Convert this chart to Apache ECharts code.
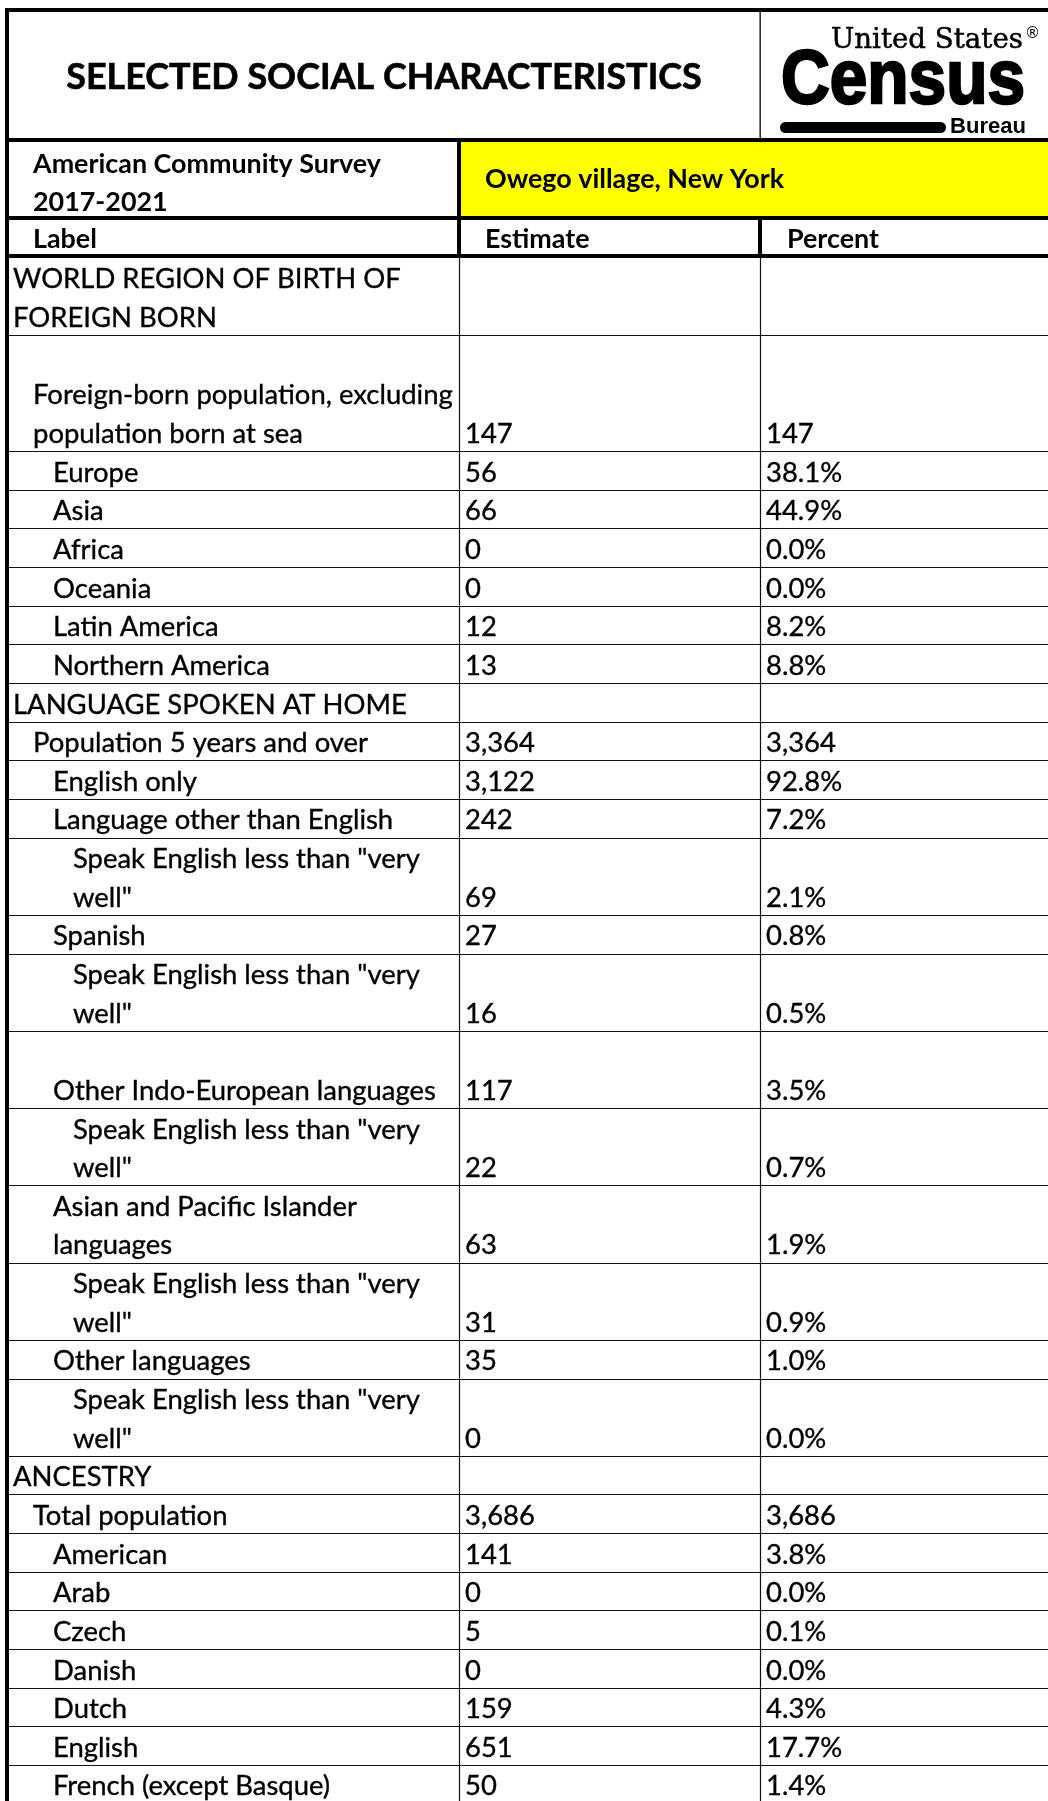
<!DOCTYPE html>
<html><head><meta charset="utf-8">
<script src="https://cdn.jsdelivr.net/npm/echarts@6/dist/echarts.min.js"></script>
<style>html,body{margin:0;padding:0;background:#fff}#c{width:1048px;height:1801px}</style>
</head><body><div id="c"></div>
<script>
// ---------------- DATA ----------------
const rowLabels = [
  'WORLD REGION OF BIRTH OF\nFOREIGN BORN',
  'Foreign-born population, excluding\npopulation born at sea',
  'Europe', 'Asia', 'Africa', 'Oceania', 'Latin America', 'Northern America',
  'LANGUAGE SPOKEN AT HOME',
  'Population 5 years and over',
  'English only',
  'Language other than English',
  'Speak English less than "very\nwell"',
  'Spanish',
  'Speak English less than "very\nwell"',
  'Other Indo-European languages',
  'Speak English less than "very\nwell"',
  'Asian and Pacific Islander\nlanguages',
  'Speak English less than "very\nwell"',
  'Other languages',
  'Speak English less than "very\nwell"',
  'ANCESTRY',
  'Total population',
  'American', 'Arab', 'Czech', 'Danish', 'Dutch', 'English', 'French (except Basque)'
];
const rowLevels = [0,1,2,2,2,2,2,2,0,1,2,2,3,2,3,2,3,2,3,2,3,0,1,2,2,2,2,2,2,2];
const rowSpans  = [2,3,1,1,1,1,1,1,1,1,1,1,2,1,2,2,2,2,2,1,2,1,1,1,1,1,1,1,1,1];
const estimates = [null,147,56,66,0,0,12,13,null,3364,3122,242,69,27,16,117,22,63,31,35,0,null,3686,141,0,5,0,159,651,50];
const percents  = ['','147','38.1%','44.9%','0.0%','0.0%','8.2%','8.8%','','3,364','92.8%','7.2%','2.1%','0.8%','0.5%','3.5%','0.7%','1.9%','0.9%','1.0%','0.0%','','3,686','3.8%','0.0%','0.1%','0.0%','4.3%','17.7%','1.4%'];

const headerTitle = 'SELECTED SOCIAL CHARACTERISTICS';
const surveyLines = ['American Community Survey', '2017-2021'];
const geography = 'Owego village, New York';
const columnHeaders = ['Label', 'Estimate', 'Percent'];

// ---------------- LAYOUT ----------------
const W = 1048, H = 1801;
const BODY_TOP = 258, UNIT = 38.64;
const FAM = "Lato, 'Open Sans', sans-serif";
const ctx = document.createElement('canvas').getContext('2d');
function fit(text, weight, fam, target) {
  ctx.font = weight + ' 100px ' + fam;
  return 100 * target / ctx.measureText(text).width;
}
const bodySize = fit('Foreign-born population, excluding', 'normal', FAM, 420);
const headSize = fit('American Community Survey', 'bold', FAM, 348);
const titleSize = fit(headerTitle, 'bold', FAM, 636);

const rowStarts = [];
rowSpans.reduce((acc, s) => { rowStarts.push(acc); return acc + s; }, 0);
const rowData = rowLabels.map((_, i) => [rowStarts[i], rowSpans[i], i]);

function fmt(n) { return n == null ? '' : n.toLocaleString('en-US'); }

function txt(text, x, y, size, weight, align, fam, extra) {
  const st = {
    text: text, fontSize: size, fontWeight: weight || 'normal', fontFamily: fam || FAM,
    fill: '#000', align: align || 'left', verticalAlign: 'middle',
    textAlign: align || 'left', textVerticalAlign: 'middle' };
  if (extra) Object.assign(st, extra);
  return { type: 'text', x: x, y: y, style: st };
}
function rect(x, y, w, h, fill) {
  return { type: 'rect', shape: { x: x, y: y, width: w, height: h }, style: { fill: fill || '#000' } };
}

function renderRow(params, api) {
  const i = api.value(2);
  const y0 = api.coord([0, api.value(0)])[1];
  const y1 = api.coord([0, api.value(0) + api.value(1)])[1];
  const unitPx = api.size([0, 1])[1];
  const yb = Math.round(y1) + 0.5;
  const ch = [];
  const line = (x1, a, x2, b) => ({ type: 'line', shape: { x1: x1, y1: a, x2: x2, y2: b },
    style: { stroke: '#111', lineWidth: 1.2 } });
  ch.push(line(api.coord([9, 0])[0], yb, api.coord([W, 0])[0], yb));
  [459.5, 760.5].forEach(x => { const px = api.coord([x, 0])[0]; ch.push(line(px, y0, px, y1)); });
  const lines = rowLabels[i].split('\n');
  const indent = 13 + 20 * rowLevels[i];
  const base = y1 - 17;
  const thick = { stroke: '#000', lineWidth: 0.35 };
  lines.forEach((t, k) => {
    ch.push(txt(t, api.coord([indent, 0])[0], base - (lines.length - 1 - k) * unitPx, bodySize, 'normal', 'left', FAM, thick));
  });
  ch.push(txt(fmt(estimates[i]), api.coord([465, 0])[0], base, bodySize, 'normal', 'left', FAM, thick));
  ch.push(txt(percents[i], api.coord([766, 0])[0], base, bodySize, 'normal', 'left', FAM, thick));
  return { type: 'group', children: ch };
}

// ---------------- HEADER / LOGO (decoration) ----------------
const serifFam = "'DejaVu Serif', 'Liberation Serif', serif";
const logoFam = "'Liberation Sans', Arial, sans-serif";
const usSize = fit('United States', 'normal', serifFam, 192);
ctx.font = 'bold 76px ' + logoFam;
const censusScale = 244 / ctx.measureText('Census').width;
const bureauSize = fit('Bureau', 'bold', logoFam, 76);

const graphics = [
  rect(5, 8, W - 5, 4),
  rect(5, 8, 4, H - 8),
  rect(759.5, 12, 1.3, 126),
  rect(5, 138, W - 5, 4),
  rect(461, 142, W - 461, 74, '#FFFF00'),
  rect(457, 142, 4, 116),
  rect(5, 216, W - 5, 4),
  rect(758, 220, 4, 38),
  rect(5, 254, W - 5, 4),
  txt(headerTitle, 384, 77, titleSize, 'bold', 'center', FAM, { stroke: '#000', lineWidth: 0.6 }),
  txt(surveyLines[0], 33, 164, headSize, 'bold'),
  txt(surveyLines[1], 33, 202, headSize, 'bold'),
  txt(geography, 485, 179, headSize, 'bold'),
  txt(columnHeaders[0], 33, 239, headSize, 'bold'),
  txt(columnHeaders[1], 485, 239, headSize, 'bold'),
  txt(columnHeaders[2], 787, 239, headSize, 'bold'),
  // logo
  txt('United States', 831, 41, usSize, 'normal', 'left', serifFam, { stroke: '#000', lineWidth: 0.5 }),
  txt('®', 1025, 34, 15, 'normal', 'left', "'DejaVu Sans', sans-serif"),
  { type: 'text', x: 781, y: 82, scaleX: censusScale, style: {
      text: 'Census', x: 0, y: 0, fontSize: 76, fontWeight: 'bold', fontFamily: logoFam, fill: '#000',
      stroke: '#000', lineWidth: 2.5,
      align: 'left', verticalAlign: 'middle', textAlign: 'left', textVerticalAlign: 'middle' } },
  { type: 'rect', shape: { x: 780, y: 122, width: 166, height: 11, r: 5.5 }, style: { fill: '#000' } },
  txt('Bureau', 950, 127, bureauSize, 'bold', 'left', logoFam)
];

const chart = echarts.init(document.getElementById('c'), null, { renderer: 'canvas' });
chart.setOption({
  animation: false,
  backgroundColor: '#fff',
  grid: { left: 0, right: 0, top: 0, bottom: 0 },
  xAxis: { type: 'value', min: 0, max: W, show: false },
  yAxis: { type: 'value', min: -BODY_TOP / UNIT, max: (H - BODY_TOP) / UNIT, inverse: true, show: false },
  series: [{ type: 'custom', renderItem: renderRow, data: rowData, clip: false, silent: true }],
  graphic: graphics
});
</script></body></html>
